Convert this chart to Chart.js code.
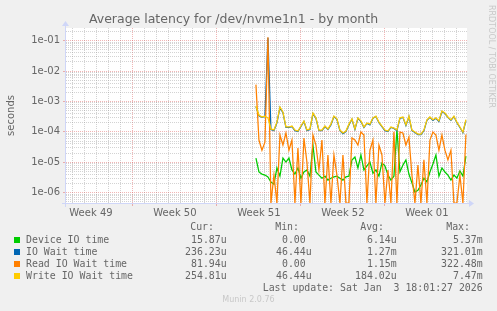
<!DOCTYPE html>
<html>
<head>
<meta charset="utf-8">
<script src="https://cdn.jsdelivr.net/npm/chart.js@4/dist/chart.umd.min.js"></script>
<style>
html,body{margin:0;padding:0;background:#f0f0f0;}
#wrap{position:relative;width:497px;height:311px;overflow:hidden;background:#f0f0f0;}
#c{position:absolute;left:0;top:0;}
.m{position:absolute;white-space:pre;font-family:"DejaVu Sans Mono",monospace;font-size:9.9px;line-height:12px;color:#666;}
.sq{position:absolute;width:6px;height:6px;}
#munin{position:absolute;left:0;width:497px;text-align:center;top:295px;font-family:"DejaVu Sans",sans-serif;font-size:8px;line-height:10px;color:#c8c8c8;}
#rrd{position:absolute;left:486px;top:5px;writing-mode:vertical-rl;font-family:"DejaVu Sans",sans-serif;font-size:8px;line-height:10px;color:#c8c8c8;white-space:pre;}
</style>
</head>
<body>
<div id="wrap">
<canvas id="c" width="497" height="311"></canvas>
<div id="rrd">RRDTOOL / TOBI OETIKER</div>
<div id="munin">Munin 2.0.76</div>
</div>
<script>
// ---------- data ----------
const TITLE = 'Average latency for /dev/nvme1n1 - by month';
const Y_TITLE = 'seconds';
const weekLabels = ['Week 49', 'Week 50', 'Week 51', 'Week 52', 'Week 01'];

// sample times: days since Mon 1 Dec 2025 00:00, one sample every 6 h
const FIRST_SAMPLE_DAY = 17.25;
const SAMPLE_STEP_DAYS = 0.25;

const deviceIO = [1.38e-5,4.8e-6,4.1e-6,3.8e-6,3.3e-6,2.25e-6,1.9e-6,6.5e-6,3.5e-6,1.38e-5,
  1.02e-5,1.38e-5,5.6e-6,4.1e-6,6.5e-6,3.0e-6,4.8e-6,5.6e-6,3.5e-6,3.7e-5,
  4.8e-6,3.8e-6,3.0e-6,3.5e-6,2.6e-6,3.0e-6,3.3e-6,3.5e-6,3.0e-6,2.6e-6,
  3.3e-6,3.5e-6,1.19e-5,1.49e-5,6.5e-6,1.74e-5,5.6e-6,7.6e-6,1.02e-5,4.4e-6,
  5.6e-6,3.5e-6,9.5e-6,7.6e-6,3.8e-6,2.6e-6,3.5e-6,1.2e-4,4.8e-6,8.1e-6,
  1.19e-5,4.1e-6,2.1e-6,1.05e-6,1.2e-6,1.8e-6,3.0e-6,2.25e-6,4.8e-6,8.8e-6,
  1.74e-5,3.5e-6,6.5e-6,4.8e-6,3.8e-6,2.6e-6,3.8e-6,3.0e-6,5.2e-6,3.5e-6,1.59e-5];

const ioWait = [6.8e-4,3.4e-4,3.0e-4,3.2e-4,0.125,1.2e-4,1.1e-4,2.0e-4,6.3e-4,4.3e-4,
  1.4e-4,1.4e-4,1.5e-4,1.1e-4,1.03e-4,1.5e-4,2.2e-4,1.1e-4,1.2e-4,4.0e-4,
  2.8e-4,1.1e-4,1.1e-4,1.5e-4,1.2e-4,1.7e-4,3.2e-4,2.6e-4,1.1e-4,8.8e-5,
  1.03e-4,1.7e-4,2.6e-4,1.2e-4,2.8e-4,2.2e-4,1.4e-4,1.9e-4,1.7e-4,2.8e-4,
  3.2e-4,2.0e-4,1.5e-4,1.1e-4,1.03e-4,1.4e-4,1.3e-4,1.1e-4,2.8e-4,3.0e-4,
  1.6e-4,3.2e-4,1.1e-4,9.5e-5,8.2e-5,8.2e-5,1.1e-4,2.4e-4,3.0e-4,2.4e-4,
  2.8e-4,2.2e-4,4.7e-4,4.0e-4,3.0e-4,2.4e-4,3.2e-4,2.0e-4,1.4e-4,9.5e-5,2.36e-4];

const readWait = [3.6e-3,5.4e-5,2.5e-5,4.6e-5,0.13,0,3.8e-6,0,7.9e-5,3.7e-5,
  9.2e-5,2.5e-5,5.4e-5,0,2.95e-5,0,6.3e-5,1.0e-5,0,7.9e-5,
  3.7e-5,5.6e-6,5.4e-5,0,1.74e-5,0,1.74e-5,3.8e-6,0,1.74e-5,
  0,0,6.3e-5,5.4e-5,3.7e-5,9.9e-5,7.9e-5,0,2.5e-5,5.4e-5,
  0,3.7e-5,1.74e-5,0,5.6e-6,0,1.0e-4,0,9.9e-5,9.2e-5,
  3.7e-5,6.8e-5,3.8e-6,0,8.1e-6,0,1.2e-5,0,5.4e-5,9.9e-5,
  7.9e-5,2.5e-5,7.9e-5,2.5e-5,1.2e-5,2.5e-5,0,0,3.8e-6,0,8.2e-5];

const writeWait = [7.1e-4,3.6e-4,3.1e-4,3.3e-4,2.9e-4,1.25e-4,1.15e-4,2.1e-4,6.6e-4,4.5e-4,
  1.45e-4,1.45e-4,1.56e-4,1.15e-4,1.07e-4,1.56e-4,2.3e-4,1.15e-4,1.25e-4,4.2e-4,
  2.9e-4,1.15e-4,1.15e-4,1.56e-4,1.25e-4,1.8e-4,3.3e-4,2.7e-4,1.15e-4,9.2e-5,
  1.07e-4,1.8e-4,2.7e-4,1.25e-4,2.9e-4,2.3e-4,1.45e-4,1.96e-4,1.8e-4,2.9e-4,
  3.3e-4,2.1e-4,1.56e-4,1.15e-4,1.07e-4,1.45e-4,1.34e-4,1.15e-4,2.9e-4,3.1e-4,
  1.69e-4,3.3e-4,1.15e-4,9.9e-5,8.5e-5,8.5e-5,1.15e-4,2.5e-4,3.1e-4,2.5e-4,
  2.9e-4,2.3e-4,4.9e-4,4.2e-4,3.1e-4,2.5e-4,3.3e-4,2.1e-4,1.45e-4,9.9e-5,2.55e-4];

const seriesNames = ['Device IO time', 'IO Wait time', 'Read IO Wait time', 'Write IO Wait time'];
const seriesColors = ['#00cc00', '#0066b3', '#ff8000', '#ffcc00'];
const curVals = ['15.87u', '236.23u', '81.94u', '254.81u'];
const minVals = ['0.00 ', '46.44u', '0.00 ', '46.44u'];
const avgVals = ['6.14u', '1.27m', '1.15m', '184.02u'];
const maxVals = ['5.37m', '321.01m', '322.48m', '7.47m'];
const LAST_UPDATE = 'Last update: Sat Jan  3 18:01:27 2026';

// ---------- scale settings ----------
const X_MIN = 1.42, X_MAX = 34.84;
const Y_MIN = 4.58e-7, Y_MAX = 0.262;
const GRID = 'rgba(150,150,150,0.42)';
const MGRID = 'rgba(222,79,79,0.42)';
const AXIS = '#cfd6f8';
const FONT_COLOR = '#666';

function toPoints(arr) {
  // rrdtool draws zero on a log scale at the bottom edge
  return arr.map((v, i) => ({ x: FIRST_SAMPLE_DAY + i * SAMPLE_STEP_DAYS, y: v === 0 ? Y_MIN : v }));
}
const allSeries = [deviceIO, ioWait, readWait, writeWait];
const drawOrder = [3, 2, 1, 0]; // later series on top
const datasets = allSeries.map((arr, k) => ({
  label: seriesNames[k], data: toPoints(arr), borderColor: seriesColors[k],
  borderWidth: 1.25, pointRadius: 0, tension: 0, fill: false, order: drawOrder[k]
}));

function isDecade(v) {
  const l = Math.log10(v);
  return Math.abs(l - Math.round(l)) < 1e-6;
}

const bgPlugin = {
  id: 'bg',
  beforeDraw(chart) {
    const { ctx, chartArea: a } = chart;
    ctx.save();
    ctx.fillStyle = '#f0f0f0';
    ctx.fillRect(0, 0, chart.width, chart.height);
    ctx.fillStyle = '#ffffff';
    ctx.fillRect(a.left, a.top, a.right - a.left, a.bottom - a.top);
    ctx.restore();
  }
};
const axisPlugin = {
  id: 'axes',
  afterDatasetsDraw(chart) {
    const { ctx, chartArea: a } = chart;
    ctx.save();
    ctx.strokeStyle = AXIS; ctx.fillStyle = AXIS; ctx.lineWidth = 1;
    ctx.beginPath();
    ctx.moveTo(a.left - 4, a.bottom + 0.5); ctx.lineTo(a.right + 3, a.bottom + 0.5);
    ctx.moveTo(a.left - 0.5, a.bottom + 4); ctx.lineTo(a.left - 0.5, a.top - 4);
    ctx.stroke();
    ctx.beginPath();
    ctx.moveTo(a.right + 2, a.bottom - 3); ctx.lineTo(a.right + 7, a.bottom + 0.5); ctx.lineTo(a.right + 2, a.bottom + 4); ctx.closePath();
    ctx.fill();
    ctx.beginPath();
    ctx.moveTo(a.left - 4, a.top - 2); ctx.lineTo(a.left - 0.5, a.top - 7); ctx.lineTo(a.left + 3, a.top - 2); ctx.closePath();
    ctx.fill();
    ctx.restore();
  }
};

new Chart(document.getElementById('c'), {
  type: 'line',
  data: { datasets },
  options: {
    animation: false, responsive: false, devicePixelRatio: 1,
    layout: { padding: { left: 0, right: 30, top: 0, bottom: 0 } },
    plugins: {
      legend: { display: false }, tooltip: { enabled: false },
      title: { display: true, text: TITLE, color: FONT_COLOR,
        font: { family: 'DejaVu Sans', size: 12.5, weight: 'normal', lineHeight: 1.2 },
        padding: { top: 12, bottom: 1 } }
    },
    scales: {
      x: {
        type: 'linear', min: X_MIN, max: X_MAX,
        afterBuildTicks(scale) {
          const t = [];
          for (let d = 2; d <= 34; d++) t.push(d);
          weekLabels.forEach((_, i) => t.push(3.5 + 7 * i));
          t.sort((p, q) => p - q);
          scale.ticks = t.map(v => ({ value: v }));
        },
        afterFit(scale) { scale.height = 108; },
        grid: {
          lineWidth: 1, drawTicks: true, tickLength: 3,
          color: c => (c.tick && c.tick.value % 1 !== 0) ? 'rgba(0,0,0,0)' : (c.tick && c.tick.value % 7 === 0 ? MGRID : GRID),
          tickColor: c => (c.tick && c.tick.value % 7 === 0) ? MGRID : 'rgba(0,0,0,0)'
        },
        border: { display: false, dash: [1, 1] },
        ticks: {
          autoSkip: false, maxRotation: 0, minRotation: 0, padding: 1, color: FONT_COLOR,
          font: { family: 'DejaVu Sans', size: 10 },
          callback: v => {
            const i = (v - 3.5) / 7;
            return (Math.abs(i - Math.round(i)) < 1e-6 && weekLabels[Math.round(i)]) ? weekLabels[Math.round(i)] : '';
          }
        }
      },
      y: {
        type: 'logarithmic', min: Y_MIN, max: Y_MAX,
        afterBuildTicks(scale) {
          const t = [];
          for (let n = -7; n <= -1; n++) for (let m = 1; m <= 9; m++) {
            const v = m * Math.pow(10, n);
            if (v >= Y_MIN && v <= Y_MAX) t.push({ value: v });
          }
          scale.ticks = t;
        },
        afterFit(scale) { scale.width = 66; },
        grid: {
          lineWidth: 1, drawTicks: true, tickLength: 3,
          color: c => (c.tick && isDecade(c.tick.value)) ? MGRID : GRID,
          tickColor: c => (c.tick && isDecade(c.tick.value)) ? MGRID : 'rgba(0,0,0,0)'
        },
        border: { display: false, dash: [1, 1] },
        ticks: {
          padding: 3, color: FONT_COLOR, autoSkip: false,
          font: { family: 'DejaVu Sans', size: 10 },
          callback: v => isDecade(v) ? '1e-' + String(-Math.round(Math.log10(v))).padStart(2, '0') : ''
        },
        title: { display: true, text: Y_TITLE, color: FONT_COLOR,
          font: { family: 'DejaVu Sans', size: 10 }, padding: { top: 5, bottom: 0 } }
      }
    }
  },
  plugins: [bgPlugin, axisPlugin]
});

// ---------- legend table (text) ----------
const wrap = document.getElementById('wrap');
function addText(txt, css) {
  const d = document.createElement('div');
  d.className = 'm';
  d.textContent = txt;
  Object.assign(d.style, css);
  wrap.appendChild(d);
  return d;
}
const colRight = [226.7, 311.7, 396.7, 482.7];
const headers = ['Cur:', 'Min:', 'Avg:', 'Max:'];
headers.forEach((h, i) => addText(h, { right: (497 - colRight[i] + 12.7) + 'px', top: '221.3px' }));
seriesNames.forEach((name, k) => {
  const cy = 239.7 + 12 * k;
  const sq = document.createElement('div');
  sq.className = 'sq';
  sq.style.left = '14px'; sq.style.top = (cy - 3) + 'px'; sq.style.background = seriesColors[k];
  wrap.appendChild(sq);
  addText(name, { left: '26px', top: (cy - 6) + 'px' });
  [curVals, minVals, avgVals, maxVals].forEach((col, i) => {
    addText(col[k], { right: (497 - colRight[i]) + 'px', top: (cy - 6) + 'px' });
  });
});
addText(LAST_UPDATE, { right: (497 - 482.7) + 'px', top: '281.7px' });
</script>
</body>
</html>
